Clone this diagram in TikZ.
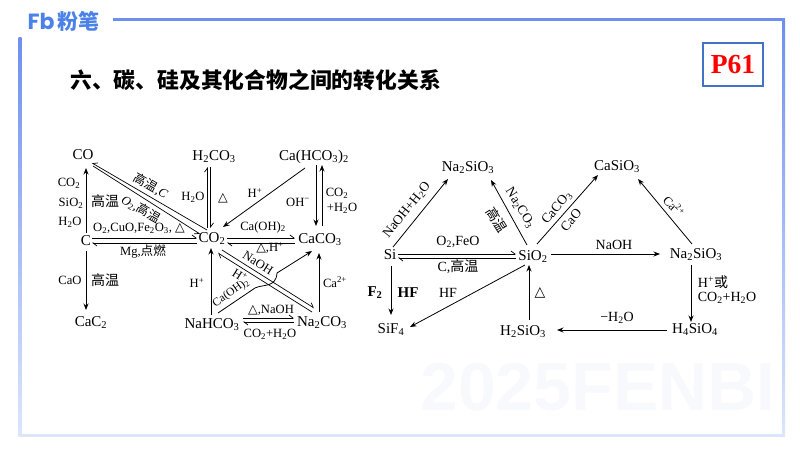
\documentclass[tikz,border=0pt]{standalone}
\usepackage{fontspec}
\setmainfont{Liberation Serif}
\newfontfamily\cjk{Noto Sans CJK SC}
\newfontfamily\trisym{DejaVu Sans}
\newfontfamily\logofont{Poppins}
\newcommand{\sbs}[1]{\textsubscript{#1}}
\newcommand{\sps}[1]{\textsuperscript{#1}}
\newcommand{\zh}[1]{{\cjk #1}}
\newcommand{\tri}{{\trisym △}}
\usetikzlibrary{arrows.meta,positioning}
\definecolor{framemain}{HTML}{6F8FEF}
\definecolor{framepale}{HTML}{DCE6FB}
\definecolor{logoblue}{HTML}{4C82E8}
\definecolor{boxblue}{HTML}{4472C4}
\definecolor{markgrey}{HTML}{F8F9FD}
\begin{document}
\begin{tikzpicture}[x=1pt,y=-1pt,
    chem/.style={inner sep=0pt,text height=10pt,text depth=3pt,font=\fontsize{15}{16}\selectfont},
    lab/.style={inner sep=0pt,font=\fontsize{12.6}{14}\selectfont},
    labr/.style={inner sep=0pt,font=\fontsize{14}{15}\selectfont},
    labrot/.style={inner sep=0pt,font=\fontsize{13.4}{15}\selectfont},
    labbold/.style={inner sep=0pt,font=\fontsize{15}{16}\selectfont\bfseries},
    arr/.style={-{Stealth[length=6.5pt,width=5pt]},line width=.8pt},
    harp/.style={-{Straight Barb[left,length=4pt,width=6pt]},line width=.7pt},
    harpr/.style={-{Straight Barb[right,length=4pt,width=6pt]},line width=.7pt}]

    \useasboundingbox (0,0) rectangle (800,450);
    \shade[top color=framemain,bottom color=framepale] (18.5,37) rectangle (21.5,436);
    \fill[framemain] (113,17.5) rectangle (785,20.5);
    \shade[top color=framemain,bottom color=framepale] (782,20) rectangle (785,436);
    \fill[framepale] (18.5,433.5) rectangle (785,436.5);

    \node[text=markgrey,font=\fontsize{68}{70}\selectfont\fontspec{Liberation Sans}\bfseries] (mark) at (598,387) {2025FENBI};
    \node[text=logoblue,inner sep=0pt,font=\fontsize{22}{23}\selectfont\logofont\bfseries] (logofb) at (41,21) {Fb};
    \node[text=logoblue,inner sep=0pt,font=\fontsize{21}{23}\selectfont\cjk\bfseries] (logozh) at (78,21) {粉笔};
    \node[inner sep=0pt,anchor=west,font=\fontsize{21.8}{24}\selectfont\cjk\bfseries] (title) at (70,80) {六、碳、硅及其化合物之间的转化关系};
    \node[draw=boxblue,line width=1.3pt,minimum width=60pt,minimum height=43pt,inner sep=0pt,text=red,font=\fontsize{27.5}{30}\selectfont\bfseries] (page) at (733,64.5) {P61};

    \node[chem] (co) at (83,156) {CO};
    \node[chem] (c) at (86,242) {C};
    \node[chem] (cac) at (91,323) {CaC\sbs{2}};
    \node[chem] (hco) at (214,157) {H\sbs{2}CO\sbs{3}};
    \node[chem] (cah) at (314,157) {Ca(HCO\sbs{3})\sbs{2}};
    \node[chem] (coo) at (212,239) {CO\sbs{2}};
    \node[chem] (caco) at (320,240) {CaCO\sbs{3}};
    \node[chem] (nah) at (212,325) {NaHCO\sbs{3}};
    \node[chem] (naco) at (322,323) {Na\sbs{2}CO\sbs{3}};

    \node[chem] (nasione) at (468,168) {Na\sbs{2}SiO\sbs{3}};
    \node[chem] (casi) at (617,167) {CaSiO\sbs{3}};
    \node[chem] (si) at (390,256) {Si};
    \node[chem] (sio) at (533,257) {SiO\sbs{2}};
    \node[chem] (nasi) at (696,255) {Na\sbs{2}SiO\sbs{3}};
    \node[chem] (sif) at (391,330) {SiF\sbs{4}};
    \node[chem] (hsi) at (523,332) {H\sbs{2}SiO\sbs{3}};
    \node[chem] (hfour) at (695,330) {H\sbs{4}SiO\sbs{4}};

    \draw[arr] ([shift={(0,-9)}]c.center) -- ([shift={(3,12)}]co.center);
    \draw[arr] ([shift={(0,9)}]c.center) -- ([shift={(-5,-13)}]cac.center);
    \draw[harpr] ([shift={(-5,-9)}]coo.center) -- ([shift={(9,7)}]co.center);
    \draw[harpr] ([shift={(10,10)}]co.center) -- ([shift={(-12,-5)}]coo.center);
    \draw[harp] ([shift={(6,-4)}]c.center) -- ([shift={(-15,-1)}]coo.center);
    \draw[harp] ([shift={(-15,4)}]coo.center) -- ([shift={(6,1)}]c.center);
    \draw[harp] ([shift={(-4.5,-11)}]coo.center) -- ([shift={(-6.5,10)}]hco.center);
    \draw[harp] ([shift={(-3.5,10)}]hco.center) -- ([shift={(-1.5,-11)}]coo.center);
    \draw[arr] ([shift={(-9,11)}]cah.center) -- ([shift={(11,-12)}]coo.center);
    \draw[arr] ([shift={(2,8)}]cah.center) -- ([shift={(-4,-14)}]caco.center);
    \draw[arr] ([shift={(2,-14)}]caco.center) -- ([shift={(8,8)}]cah.center);
    \draw[harp] ([shift={(15,-1)}]coo.center) -- ([shift={(-25,-2)}]caco.center);
    \draw[harp] ([shift={(-25,3)}]caco.center) -- ([shift={(15,4)}]coo.center);
    \draw[arr] ([shift={(-1,-10)}]nah.center) -- ([shift={(-1,9)}]coo.center);
    \draw[arr] ([shift={(-3,-11)}]naco.center) -- ([shift={(-1,13)}]caco.center);
    \draw[harp] ([shift={(-10,-11)}]naco.center) -- ([shift={(6,14)}]coo.center);
    \draw[harp] ([shift={(10,11)}]coo.center) -- ([shift={(-8,-15)}]naco.center);
    \coordinate (bendl) at (255,288);
    \coordinate (bendr) at (277,273);
    \draw[arr] ([shift={(6,-12)}]nah.center) -- (bendl) .. controls (263,284) and (276,288) .. (bendr) -- ([shift={(-8,11)}]caco.center);
    \draw[harp] ([shift={(31,-7)}]nah.center) -- ([shift={(-28,-5)}]naco.center);
    \draw[harp] ([shift={(-28,-1)}]naco.center) -- ([shift={(31,-3)}]nah.center);

    \draw[arr] ([shift={(3,-9)}]si.center) -- ([shift={(-20,11)}]nasione.center);
    \draw[arr] ([shift={(-6,-12)}]sio.center) -- ([shift={(23,12)}]nasione.center);
    \draw[arr] ([shift={(4,-13)}]sio.center) -- ([shift={(-19,8)}]casi.center);
    \draw[arr] ([shift={(-4,-11)}]nasi.center) -- ([shift={(21,12)}]casi.center);
    \draw[arr] ([shift={(18,-3)}]sio.center) -- ([shift={(-36,-1)}]nasi.center);
    \draw[arr] ([shift={(-5,10)}]nasi.center) -- ([shift={(-4,-8)}]hfour.center);
    \draw[arr] ([shift={(-28,0)}]hfour.center) -- ([shift={(34,-2)}]hsi.center);
    \draw[arr] ([shift={(6,-12)}]hsi.center) -- ([shift={(-4,8)}]sio.center);
    \draw[arr] ([shift={(-8,8)}]sio.center) -- ([shift={(19,-3)}]sif.center);
    \draw[arr] ([shift={(1,10)}]si.center) -- ([shift={(0,-15)}]sif.center);
    \draw[harp] ([shift={(8,-2)}]si.center) -- ([shift={(-17,-3)}]sio.center);
    \draw[harp] ([shift={(-17,1)}]sio.center) -- ([shift={(8,2)}]si.center);

    \node[lab] (l1) at (69,183) {CO\sbs{2}};
    \node[lab] (l2) at (71,203) {SiO\sbs{2}};
    \node[lab] (l3) at (70,222) {H\sbs{2}O};
    \node[lab] (l4) at (70,280) {CaO};
    \node[labr] (l5) at (105,201) {\zh{高温}};
    \node[labr] (l6) at (105,280) {\zh{高温}};
    \node[lab,rotate=-30] (l7) at (151,186) {\zh{高温},\textit{C}};
    \node[lab,rotate=-30] (l8) at (141,209) {\textit{O}\sbs{2},\zh{高温}};
    \node[lab] (l9) at (139,228) {O\sbs{2},CuO,Fe\sbs{2}O\sbs{3}, \tri};
    \node[lab] (l10) at (143,252) {Mg,\zh{点燃}};
    \node[lab] (l11) at (193,197) {H\sbs{2}O};
    \node[lab] (l12) at (223,198) {\tri};
    \node[lab] (l13) at (255,193) {H\sps{+}};
    \node[lab] (l14) at (298,202) {OH\sps{−}};
    \node[lab] (l15) at (337,193) {CO\sbs{2}};
    \node[lab] (l16) at (342,208) {+H\sbs{2}O};
    \node[lab] (l17) at (263,227) {Ca(OH)\sbs{2}};
    \node[lab] (l18) at (270,248) {\tri,H\sps{+}};
    \node[lab,rotate=-32] (l19) at (258,263) {NaOH};
    \node[lab,rotate=-32] (l20) at (240,275) {H\sps{+}};
    \node[lab,rotate=35,font=\fontsize{11.5}{13}\selectfont] (l21) at (231,293) {Ca(OH)\sbs{2}};
    \node[lab] (l22) at (197,283) {H\sps{+}};
    \node[lab] (l23) at (335,282) {Ca\sps{2+}};
    \node[lab] (l24) at (271,310) {\tri,NaOH};
    \node[lab] (l25) at (270,334) {CO\sbs{2}+H\sbs{2}O};

    \node[labrot,rotate=51] (r1) at (407,210) {NaOH+H\sbs{2}O};
    \node[labrot,rotate=-58] (r2) at (520,208) {Na\sbs{2}CO\sbs{3}};
    \node[labrot,rotate=-58] (r3) at (497,220) {\zh{高温}};
    \node[labrot,rotate=50] (r4) at (557,208) {CaCO\sbs{3}};
    \node[labrot,rotate=50] (r5) at (571,220) {CaO};
    \node[lab,rotate=-45] (r6) at (674,206) {Ca\sps{2+}};
    \node[labr] (r7) at (614,245) {NaOH};
    \node[labr] (r8) at (713,282) {H\sps{+}\zh{或}};
    \node[labr] (r9) at (727,298) {CO\sbs{2}+H\sbs{2}O};
    \node[labr] (r10) at (617,318) {−H\sbs{2}O};
    \node[labr] (r11) at (540,293) {\tri};
    \node[labr] (r12) at (458,242) {O\sbs{2},FeO};
    \node[labr] (r13) at (458,267) {C,\zh{高温}};
    \node[labbold] (r14) at (375,293) {F\sbs{2}};
    \node[labbold] (r15) at (408,293) {HF};
    \node[labr] (r16) at (448,293) {HF};
  \end{tikzpicture}
\end{document}
